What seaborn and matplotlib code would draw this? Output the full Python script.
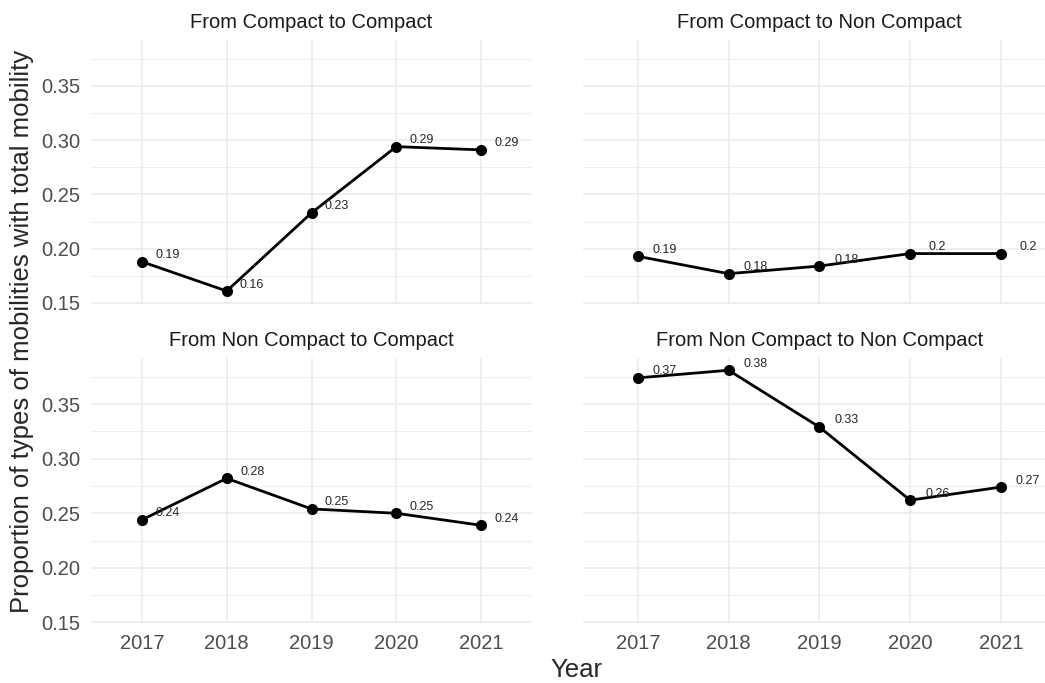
import seaborn as sns
import matplotlib.pyplot as plt
import pandas as pd
from matplotlib.ticker import MultipleLocator, FormatStrFormatter

years = ["2017", "2018", "2019", "2020", "2021"]
compact_to_compact = [0.188, 0.161, 0.233, 0.294, 0.291]
compact_to_noncompact = [0.193, 0.177, 0.184, 0.1955, 0.1955]
noncompact_to_compact = [0.244, 0.282, 0.254, 0.250, 0.239]
noncompact_to_noncompact = [0.374, 0.381, 0.329, 0.262, 0.274]
panel_titles = ["From Compact to Compact", "From Compact to Non Compact",
                "From Non Compact to Compact", "From Non Compact to Non Compact"]

series = [compact_to_compact, compact_to_noncompact, noncompact_to_compact, noncompact_to_noncompact]
df = pd.DataFrame({
    "Year": years * 4,
    "Proportion": sum(series, []),
    "Type": sum([[t] * len(years) for t in panel_titles], []),
})

sns.set_theme(style="white")
plt.rcParams["font.family"] = ["Liberation Sans", "DejaVu Sans"]

g = sns.FacetGrid(df, col="Type", col_wrap=2, col_order=panel_titles,
                  sharex=True, sharey=True, height=3.4, aspect=1.5)


def draw(data, **kws):
    ax = plt.gca()
    sns.lineplot(data=data, x="Year", y="Proportion", color="black", linewidth=2,
                 marker="o", markersize=8, markeredgewidth=0, ax=ax)
    # labels nudged right/up like geom_text(nudge_x, nudge_y)
    for i, v in enumerate(data["Proportion"]):
        ax.text(i + 0.3, v + 0.006, f"{round(v, 2):g}", fontsize=9,
                ha="center", va="center", color="#262626")


g.map_dataframe(draw)
g.set_axis_labels("", "")
g.set_titles("{col_name}", size=14.5, color="#1a1a1a", pad=9)

for ax in g.axes.flat:
    ax.set_xlim(-0.6, 4.6)
    ax.set_ylim(0.1495, 0.392)
    ax.yaxis.set_major_locator(MultipleLocator(0.05))
    ax.yaxis.set_minor_locator(MultipleLocator(0.025))
    ax.yaxis.set_major_formatter(FormatStrFormatter("%.2f"))
    ax.grid(which="major", color="#ebebeb", linewidth=1.1)
    ax.grid(which="minor", axis="y", color="#ebebeb", linewidth=0.6)
    ax.set_axisbelow(True)
    for s in ax.spines.values():
        s.set_visible(False)
    ax.tick_params(which="both", length=0, labelsize=14.5, labelcolor="#4d4d4d")
    ax.tick_params(axis="y", pad=8)
    ax.tick_params(axis="x", pad=8)

fig = g.figure
fig.set_size_inches(10.45, 6.83)
positions = [(0.0871, 0.5556, 0.422, 0.3855), (0.5582, 0.5556, 0.4517, 0.3855),
             (0.0871, 0.0878, 0.422, 0.3877), (0.5582, 0.0878, 0.4517, 0.3877)]
for ax, p in zip(g.axes.flat, positions):
    ax.set_position(p)

fig.text(0.021, 0.5146, "Proportion of types of mobilities with total mobility",
         rotation=90, ha="center", va="center", fontsize=18.5)
fig.text(0.552, 0.002, "Year", ha="center", va="bottom", fontsize=18.5)

plt.savefig("out.png", dpi=100)
